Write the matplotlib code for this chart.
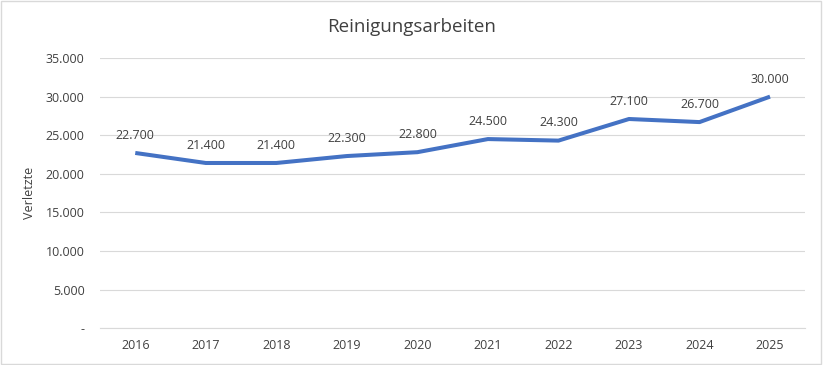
import matplotlib.pyplot as plt
from matplotlib.ticker import FuncFormatter
from matplotlib.patches import Rectangle

years = ["2016", "2017", "2018", "2019", "2020", "2021", "2022", "2023", "2024", "2025"]
verletzte = [22700, 21400, 21400, 22300, 22800, 24500, 24300, 27100, 26700, 30000]

plt.rcParams['font.family'] = ['Open Sans', 'DejaVu Sans']

def de_fmt(v, pos=None):
    if v == 0:
        return "-"
    return f"{int(v):,}".replace(",", ".")

fig = plt.figure(figsize=(8.23, 3.65), dpi=100)
ax = fig.add_axes([0.1215, 0.101, 0.857, 0.740])

x = list(range(len(years)))
ax.plot(x, verletzte, color='#4472C4', linewidth=2.9, solid_capstyle='butt', solid_joinstyle='round', zorder=3)
for xi, v in zip(x, verletzte):
    ax.annotate(de_fmt(v), (xi, v), xytext=(0, 8), textcoords='offset points',
                ha='center', va='bottom', fontsize=9, color='#404040')

ax.set_xlim(-0.5, len(years) - 0.5)
ax.set_ylim(0, 35000)
ax.set_yticks(range(0, 35001, 5000))
ax.yaxis.set_major_formatter(FuncFormatter(de_fmt))
ax.set_xticks(x)
ax.set_xticklabels(years)
ax.tick_params(axis='both', length=0, labelsize=9, labelcolor='#404040', pad=8)
ax.tick_params(axis='y', pad=11)
ax.grid(axis='y', color='#D9D9D9', linewidth=0.8)
ax.set_axisbelow(True)
for s in ['top', 'right', 'left']:
    ax.spines[s].set_visible(False)
ax.spines['bottom'].set_color('#D9D9D9')
ax.set_ylabel("Verletzte", fontsize=9, color='#404040', labelpad=7)

fig.text(0.5, 0.925, "Reinigungsarbeiten", ha='center', va='center', fontsize=13.5, color='#404040')
fig.patches.append(Rectangle((0.001, 0.002), 0.997, 0.995, transform=fig.transFigure,
                             fill=False, edgecolor='#D9D9D9', linewidth=1))

fig.savefig("out.png", dpi=100)
